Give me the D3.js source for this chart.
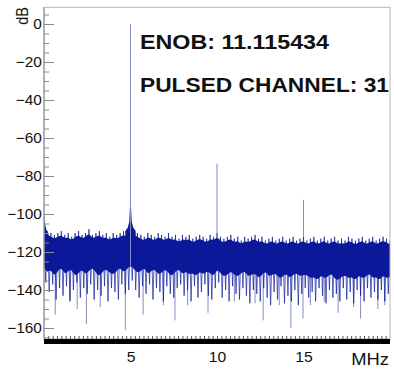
<!DOCTYPE html>
<html>
<head>
<meta charset="utf-8">
<script src="https://cdn.jsdelivr.net/npm/d3@7"></script>
<style>
  body { margin: 0; background: #fff; }
  text { font-family: Arial, "Liberation Sans", Helvetica, sans-serif; fill: #111; }
</style>
</head>
<body>
<div id="chart"></div>
<script>
// FFT of the pulsed channel. MHz on x, dB on y.
// The noise band is sampled every 0.2 MHz from 0 to 20 MHz (101 points).
var gridStep = 0.2;
var noiseTop = [
  -101,
  -109, -110, -111, -110, -109,
  -111, -110, -112, -110, -109,
  -111, -110, -108, -111, -110,
  -109, -111, -110, -112, -110,
  -111, -110, -109, -110, -107,
  -109, -110, -111, -112, -110,
  -111, -112, -110, -111, -112,
  -110, -112, -111, -113, -111,
  -112, -111, -113, -112, -111,
  -112, -113, -111, -112, -110,
  -112, -113, -112, -111, -113,
  -112, -114, -112, -113, -112,
  -111, -113, -112, -114, -113,
  -112, -114, -113, -112, -114,
  -113, -112, -114, -113, -112,
  -114, -113, -112, -114, -113,
  -112, -114, -113, -112, -114,
  -113, -114, -112, -113, -114,
  -113, -112, -114, -113, -112,
  -114, -113, -112, -113, -114
];
var noiseBottom = [
  -128,
  -131, -129, -133, -130, -128,
  -132, -130, -129, -133, -131,
  -129, -132, -130, -128, -131,
  -133, -130, -129, -131, -132,
  -130, -128, -131, -129, -127,
  -129, -131, -130, -128, -132,
  -130, -129, -132, -131, -129,
  -131, -133, -130, -129, -132,
  -130, -132, -131, -133, -130,
  -132, -130, -131, -133, -129,
  -131, -133, -132, -130, -132,
  -133, -131, -130, -133, -132,
  -131, -134, -132, -130, -133,
  -132, -131, -134, -133, -131,
  -134, -132, -131, -133, -132,
  -132, -134, -133, -135, -132,
  -134, -133, -131, -134, -135,
  -133, -132, -134, -133, -135,
  -132, -134, -133, -131, -134,
  -133, -135, -132, -134, -133
];
var wispBottom = [
  -136,
  -141, -137, -145, -139, -143,
  -138, -146, -140, -136, -144,
  -139, -142, -137, -145, -140,
  -143, -138, -146, -139, -141,
  -145, -137, -142, -140, -135,
  -140, -144, -138, -142, -137,
  -145, -139, -141, -146, -138,
  -142, -144, -139, -137, -143,
  -140, -146, -138, -144, -141,
  -137, -143, -145, -139, -136,
  -144, -140, -146, -138, -142,
  -145, -139, -143, -147, -140,
  -142, -146, -139, -144, -148,
  -141, -145, -138, -147, -143,
  -146, -140, -148, -142, -139,
  -144, -141, -146, -139, -143,
  -147, -140, -144, -142, -146,
  -139, -145, -141, -147, -140,
  -143, -146, -139, -144, -141,
  -145, -140, -146, -142, -138
];

// long single bins that drop well below the band
var spikeFreq = [0.65, 1.5, 1.92, 2.45, 3.25, 4.7, 5.73, 6.9, 7.57, 8.3, 9.48,
                 11.0, 12.2, 12.67, 13.6, 14.27, 14.97, 15.4, 16.2, 17.0, 17.9, 18.3, 19.3, 19.7];
var spikeDb   = [-153, -145, -150, -158, -149, -161, -153, -148, -156, -148, -152,
                 -146, -147, -156, -148, -160, -155, -148, -146, -152, -149, -155, -150, -148];

// skirt of the carrier
var skirtFreq = [4.7, 4.85, 4.93, 4.97, 5.0, 5.03, 5.07, 5.15, 5.3];
var skirtDb   = [-109, -107, -104, -96, -84, -96, -104, -107, -109];

// carrier and harmonics
var toneFreq = [5.0, 10.0, 15.0];
var toneDb   = [0, -73.5, -92.5];

var yTicks = [-160, -140, -120, -100, -80, -60, -40, -20, 0];
var xTickLabels = [5, 10, 15];
var enobText = "ENOB: 11.115434";
var channelText = "PULSED CHANNEL: 31";

var W = 394, H = 370,
    denseColor = "#0b1899",
    lineColor = "#838ac8";

var x = d3.scaleLinear().domain([0, 20]).range([44, 390]);
var y = d3.scaleLinear().domain([-160, 0]).range([328, 24]);
var yTopDb = 8.8, yBotDb = -165.8;

var grid = noiseTop.map(function(d, i) { return +(i * gridStep).toFixed(1); });

var svg = d3.select("#chart").append("svg")
    .attr("width", W)
    .attr("height", H);

svg.append("clipPath").attr("id", "plotclip")
  .append("rect")
    .attr("x", x(0)).attr("y", y(yTopDb))
    .attr("width", x(20) - x(0)).attr("height", y(yBotDb) - y(yTopDb));

var plot = svg.append("g").attr("clip-path", "url(#plotclip)");

plot.append("g").selectAll("line")
    .data(spikeFreq)
  .enter().append("line")
    .attr("x1", function(d) { return x(d); })
    .attr("x2", function(d) { return x(d); })
    .attr("y1", y(-128))
    .attr("y2", function(d, i) { return y(spikeDb[i]); })
    .attr("stroke", lineColor)
    .attr("stroke-width", 1);

// ROOT draws the spectrum as one line bin to bin: go top -> fringe -> top ...
var zigzag = [];
grid.forEach(function(f, i) {
  zigzag.push([f, noiseTop[i]]);
  zigzag.push([f + gridStep / 2, wispBottom[i]]);
});

plot.append("path")
    .attr("d", d3.line()
        .x(function(d) { return x(d[0]); })
        .y(function(d) { return y(d[1]); })(zigzag))
    .attr("fill", "none")
    .attr("stroke", denseColor)
    .attr("stroke-width", 0.9)
    .attr("stroke-opacity", 0.75);

// solid core of the band
var band = d3.area()
    .x(function(d) { return x(d); })
    .y0(function(d, i) { return y(noiseBottom[i]); })
    .y1(function(d, i) { return y(noiseTop[i] - 2); })
    .curve(d3.curveBasis);

plot.append("path")
    .attr("d", band(grid))
    .attr("fill", denseColor);

var skirt = d3.area()
    .x(function(d) { return x(d); })
    .y0(y(-118))
    .y1(function(d, i) { return y(skirtDb[i]); });

plot.append("path")
    .attr("d", skirt(skirtFreq))
    .attr("fill", denseColor);

plot.append("g").selectAll("line")
    .data(toneFreq)
  .enter().append("line")
    .attr("x1", function(d) { return x(d); })
    .attr("x2", function(d) { return x(d); })
    .attr("y1", function(d, i) { return i === 0 ? y(-128) : y(-112); })
    .attr("y2", function(d, i) { return y(toneDb[i]); })
    .attr("stroke", lineColor)
    .attr("stroke-width", 1);

// frame
svg.append("rect")
    .attr("x", x(0)).attr("y", y(yTopDb))
    .attr("width", x(20) - x(0)).attr("height", y(yBotDb) - y(yTopDb))
    .attr("fill", "none")
    .attr("stroke", "#b4b4b4")
    .attr("stroke-width", 1);

// y axis: ticks point into the frame
var yMinor = d3.range(-165, 6, 5);
svg.append("g")
    .attr("transform", "translate(" + x(0) + ",0)")
    .call(d3.axisLeft(y).tickValues(yMinor).tickSizeInner(-5).tickSizeOuter(0).tickFormat(""))
    .call(function(g) { g.select(".domain").remove(); })
    .selectAll("line").attr("stroke", "#8a8a8a");

var yAxis = svg.append("g")
    .attr("transform", "translate(" + x(0) + ",0)")
    .call(d3.axisLeft(y).tickValues(yTicks).tickSizeInner(-10).tickSizeOuter(0).tickPadding(2));
yAxis.select(".domain").remove();
yAxis.selectAll("line").attr("stroke", "#8a8a8a");
yAxis.selectAll("text")
    .attr("font-size", 14.5)
    .attr("font-family", null)
    .attr("transform", "scale(1.06,1)");

svg.append("line")
    .attr("x1", x(0)).attr("x2", x(0))
    .attr("y1", y(yTopDb)).attr("y2", y(yBotDb))
    .attr("stroke", "#8a8a8a");

// x axis: a heavy bar with a comb of small ticks on top
svg.append("rect")
    .attr("x", x(0)).attr("y", y(yBotDb))
    .attr("width", x(20) - x(0)).attr("height", 5)
    .attr("fill", "#000");

svg.append("g")
    .attr("transform", "translate(0," + y(yBotDb) + ")")
    .call(d3.axisBottom(x).tickValues(d3.range(0.25, 20, 0.25)).tickSizeInner(-3).tickSizeOuter(0).tickFormat(""))
    .call(function(g) { g.select(".domain").remove(); })
    .selectAll("line").attr("stroke", "#555");

var xAxis = svg.append("g")
    .attr("transform", "translate(0," + (y(yBotDb) + 5) + ")")
    .call(d3.axisBottom(x).tickValues(xTickLabels).tickSize(0).tickPadding(8));
xAxis.select(".domain").remove();
xAxis.selectAll("text")
    .attr("font-size", 14.5)
    .attr("font-family", null)
    .attr("transform", "scale(1.08,1)");

svg.append("text")
    .attr("text-anchor", "end")
    .attr("transform", "translate(389,365) scale(1.15,1)")
    .attr("font-size", 16)
    .text("MHz");

svg.append("text")
    .attr("text-anchor", "end")
    .attr("transform", "translate(28,7) rotate(-90) scale(1,1.15)")
    .attr("font-size", 14.5)
    .text("dB");

// annotations
svg.append("text")
    .attr("x", 140).attr("y", 48.5)
    .attr("font-size", 19.5)
    .attr("font-weight", "bold")
    .attr("textLength", 189)
    .attr("lengthAdjust", "spacingAndGlyphs")
    .text(enobText);

svg.append("text")
    .attr("x", 140).attr("y", 91.5)
    .attr("font-size", 19.5)
    .attr("font-weight", "bold")
    .attr("textLength", 249)
    .attr("lengthAdjust", "spacingAndGlyphs")
    .text(channelText);
</script>
</body>
</html>
